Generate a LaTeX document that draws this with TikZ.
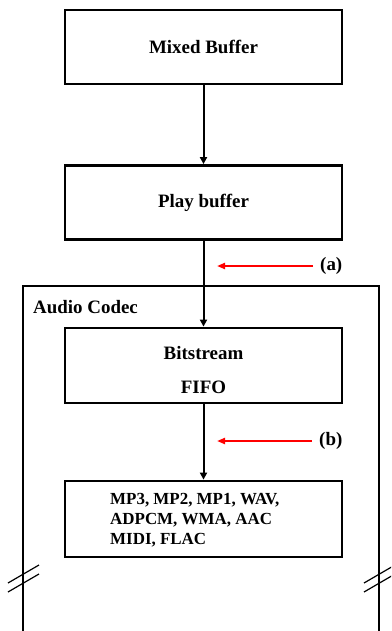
\documentclass[tikz,border=0pt]{standalone}
\usepackage{fontspec}
\setmainfont{Liberation Serif}
\usetikzlibrary{arrows.meta}
\begin{document}
\begin{tikzpicture}[x=1bp,y=-1bp,
  block/.style={draw,line width=2.8bp,minimum width=277bp,inner sep=0pt,
    font=\fontsize{19}{22}\selectfont\bfseries},
  flow/.style={line width=2bp,-{Triangle[length=7bp,width=7bp]}},
  probe/.style={draw=red,line width=2bp,-{Triangle[length=8bp,width=6bp]}},
  tag/.style={font=\fontsize{19}{22}\selectfont\bfseries,anchor=west,inner sep=0pt},
  breakmark/.style={line width=1.2bp}]
\useasboundingbox (0,0) rectangle (391,631);
\begin{scope}
\clip (0,0) rectangle (391,631);
% codec enclosure, open at the bottom
\draw[line width=1.2bp] (23,631) -- (23,286) -- (379,286) -- (379,631);
% break marks on both sides
\foreach \bx in {23,379}{
  \draw[breakmark] (\bx-15,583) -- (\bx+16,565);
  \draw[breakmark] (\bx-15,592) -- (\bx+16,574);
}
\end{scope}
\node[tag,anchor=base west] (codecname) at (33,313) {Audio Codec};

% processing blocks
\node[block,minimum height=74bp] (mixed) at (203.5,47) {Mixed Buffer};
\node[block,minimum height=74bp] (play) at (203.5,202.5) {Play buffer};
\node[block,minimum height=75bp] (bits) at (203.5,365.5) {};
\node[font=\fontsize{19}{22}\selectfont\bfseries,anchor=base] (bitsA) at (203.5,359) {Bitstream};
\node[font=\fontsize{19}{22}\selectfont\bfseries,anchor=base] (bitsB) at (203.5,393) {FIFO};
\node[block,minimum height=76bp] (dec) at (203.5,519) {};
\node[anchor=north west,inner sep=0pt,align=left,
  font=\fontsize{17}{20}\selectfont\bfseries] (fmts) at (110,493)
  {MP3, MP2, MP1, WAV,\\ADPCM, WMA, AAC\\MIDI, FLAC};

% data path
\draw[flow] (mixed.south) -- (play.north);
\draw[flow] (play.south) -- (bits.north);
\draw[flow] (bits.south) -- (dec.north);

% observation points
\coordinate (pa) at (217,266);
\coordinate (pb) at (217,441);
\node[tag] (la) at (320,266) {(a)};
\node[tag] (lb) at (319,441) {(b)};
\draw[probe] (la.west) ++(-7,0) -- (pa);
\draw[probe] (lb.west) ++(-7,0) -- (pb);
\end{tikzpicture}
\end{document}
